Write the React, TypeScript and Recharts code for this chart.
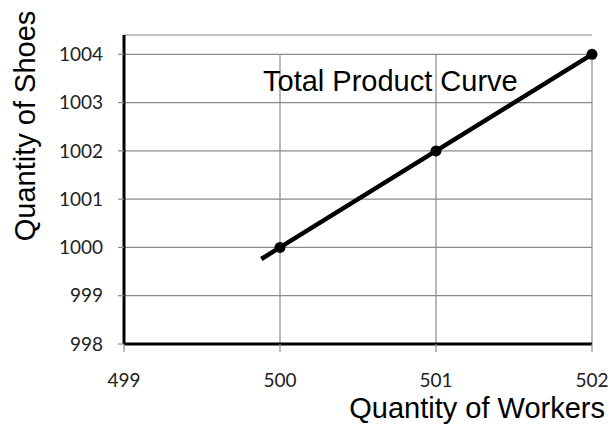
import React from "react";
import { LineChart, Line, XAxis, YAxis, CartesianGrid, ReferenceLine } from "recharts";

// total product: workers -> shoes (first point is where the drawn line starts)
const workers = [499.88, 500, 501, 502];
const shoes = [999.76, 1000, 1002, 1004];
const xTicks = [499, 500, 501, 502];
const yTicks = [998, 999, 1000, 1001, 1002, 1003, 1004];
const gridX = [500, 501, 502];

const data = workers.map((w, i) => ({ workers: w, shoes: shoes[i] }));

const tickFont = { fill: "#222", fontSize: 19, fontFamily: "Lato, sans-serif" };
const titleFont: React.CSSProperties = {
  position: "absolute", fontFamily: "'Liberation Sans', Arial, sans-serif",
  fontSize: 29, lineHeight: 1, whiteSpace: "nowrap", color: "#000",
};

function Dot(props: any) {
  const { cx, cy, index } = props;
  if (index === 0) return <g key="d0" />;
  return <circle key={`d${index}`} cx={cx} cy={cy} r={5.5} fill="#000" />;
}

export default function App() {
  return (
    <div style={{ position: "absolute", left: 0, top: 0, width: 610, height: 428, background: "#fff" }}>
      <LineChart width={610} height={428} data={data} margin={{ top: 35, right: 18, bottom: 0, left: 0 }}>
        <CartesianGrid vertical={false} stroke="#8a8a8a" strokeWidth={1.2} />
        {gridX.map((g) => (
          <ReferenceLine
            key={g}
            segment={[{ x: g, y: yTicks[0] }, { x: g, y: yTicks[yTicks.length - 1] }]}
            stroke="#8a8a8a" strokeWidth={1.2}
          />
        ))}
        <XAxis
          dataKey="workers" type="number" domain={[499, 502]} ticks={xTicks} height={84}
          axisLine={{ stroke: "#000", strokeWidth: 3 }} tickLine={{ stroke: "#8a8a8a", strokeWidth: 1.2 }}
          tickSize={8} tickMargin={22} tick={tickFont} interval={0}
        />
        <YAxis
          type="number" domain={[998, 1004.4]} ticks={yTicks} width={124} allowDataOverflow
          axisLine={{ stroke: "#000", strokeWidth: 3 }} tickLine={{ stroke: "#8a8a8a", strokeWidth: 1.2 }}
          tickSize={6} tickMargin={15} tick={tickFont} interval={0}
        />
        <Line
          dataKey="shoes" type="linear" stroke="#000" strokeWidth={4.5}
          dot={Dot} activeDot={false} isAnimationActive={false}
        />
      </LineChart>
      <div style={{ ...titleFont, left: 25, top: 126, transform: "translate(-50%, -50%) rotate(-90deg)" }}>
        Quantity of Shoes
      </div>
      <div style={{ ...titleFont, right: 5, top: 394 }}>Quantity of Workers</div>
      <div style={{ ...titleFont, left: 263, top: 67 }}>Total Product Curve</div>
    </div>
  );
}
